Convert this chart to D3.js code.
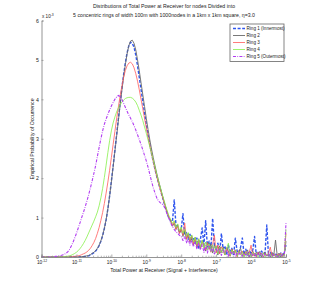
<!DOCTYPE html>
<html>
<head>
<meta charset="utf-8">
<script src="https://cdn.jsdelivr.net/npm/d3@7"></script>
<style>
  body { margin: 0; background: #fff; }
  svg { display: block; font-family: "Liberation Sans", Arial, sans-serif; }
</style>
</head>
<body>
<svg id="chart" width="316" height="289"></svg>
<script>
// bin exponents: 10^-12 ... 10^-5 in steps of 0.05 decade
const binExp = d3.range(141).map((i) => -12 + i * 0.05);

// empirical probability per bin, in units of 1e-3
const ring1 = [
  0,0,0,0,0,0,0,0,0,0, 0,0,0,0,0,0,0,0,0,0, 0,0,0,0.005,0.01,0.015,0.02,0.03,0.05,0.08,
  0.11,0.15,0.21,0.29,0.4,0.54,0.72,0.94,1.22,1.55, 1.92,2.3,2.7,3.1,3.5,3.9,4.28,4.62,4.92,5.18,
  5.36,5.45,5.42,5.32,5.12,4.85,4.55,4.25,3.95,3.65, 3.37,3.1,2.85,2.62,2.42,2.22,2.04,1.88,1.72,1.56,
  1.4,1.25,1.1,0.98,0.92,0.9,1.45,0.8,0.75,0.62, 0.7,1.1,0.55,0.62,0.45,0.58,0.4,0.5,0.35,0.48,
  0.2,0.45,0.74,0.3,0.92,0.25,0.4,0.22,0.98,0.3, 0.18,0.35,0.1,0.6,0.2,0.28,0.05,0.3,0.15,0.22,
  0.04,0.48,0.15,0.1,0.25,0.48,0.06,0.2,0.02,0.15, 0.1,0.18,0.52,0.04,0.12,0.02,0.15,0.08,0.1,0.81,
  0.03,0.12,0.02,0.1,0.05,0.08,0.0,0.1,0.05,0.12, 0.3
];
const ring2 = [
  0,0,0,0,0,0,0,0,0,0, 0,0,0,0,0,0,0,0,0,0, 0,0,0.005,0.01,0.015,0.02,0.03,0.04,0.06,0.09,
  0.12,0.16,0.22,0.3,0.41,0.55,0.73,0.95,1.22,1.54, 1.9,2.28,2.67,3.06,3.45,3.84,4.22,4.57,4.88,5.15,
  5.36,5.48,5.5,5.42,5.25,5.0,4.72,4.42,4.12,3.82, 3.52,3.24,2.98,2.74,2.52,2.31,2.12,1.94,1.77,1.6,
  1.44,1.28,1.13,1.0,
  0.9,0.78,0.86,0.7,0.82,0.6,0.72,0.52,0.68,0.45,
  0.6,0.38,0.55,0.3,0.5,0.25,0.46,0.2,0.42,0.28,
  0.15,0.38,0.2,0.33,0.1,0.3,0.22,0.05,0.28,0.12,
  0.25,0.05,0.22,0.15,0.02,0.2,0.1,0.18,0.03,0.15,
  0.22,0.02,0.12,0.08,0.18,0.0,0.1,0.15,0.02,0.12,
  0.06,0.14,0.0,0.1,0.12,0.02,0.08,0.0,0.12,0.04,
  0.43,0.02,0.1,0.0,0.08,0.05,0.4
];
const ring3 = [
  0,0,0,0,0,0,0,0,0,0, 0,0,0,0,0,0,0,0.005,0.01,0.015,
  0.02,0.03,0.04,0.06,0.08,0.1,0.13,0.17,0.22,0.29, 0.37,0.47,0.6,0.75,0.93,1.13,1.36,1.62,1.9,2.2,
  2.52,2.85,3.18,3.5,3.8,4.08,4.33,4.55,4.73,4.85, 4.92,4.94,4.9,4.8,4.65,4.46,4.24,4.0,3.76,3.52,
  3.28,3.05,2.83,2.62,2.42,2.22,2.04,1.87,1.71,1.56, 1.41,1.27,1.13,1.0,
  0.93,0.8,0.9,0.7,0.78,0.6,0.72,0.55,0.86,0.45,
  0.58,0.4,0.52,0.32,0.48,0.28,0.42,0.22,0.4,0.3,
  0.18,0.36,0.25,0.12,0.32,0.55,0.1,0.3,0.08,0.26,
  0.15,0.05,0.24,0.12,0.02,0.2,0.08,0.18,0.0,0.16,
  0.06,0.15,0.02,0.14,0.05,0.12,0.3,0.02,0.1,0.0,
  0.12,0.05,0.1,0.0,0.09,0.03,0.1,0.25,0.02,0.08,
  0.0,0.07,0.04,0.1,0.0,0.06,0.6
];
const ring4 = [
  0,0,0,0,0,0,0,0,0,0, 0,0,0,0.005,0.01,0.02,0.03,0.045,0.065,0.09,
  0.12,0.16,0.21,0.27,0.34,0.42,0.51,0.61,0.71,0.81, 0.91,1.02,1.14,1.3,1.5,1.74,2.02,2.33,2.65,2.95,
  3.2,3.4,3.55,3.68,3.78,3.86,3.93,3.98,4.02,4.04, 4.05,4.05,4.03,3.99,3.93,3.84,3.72,3.6,3.46,3.3,
  3.14,2.97,2.8,2.63,2.46,2.28,2.1,1.93,1.77,1.61, 1.46,1.31,1.17,1.04,
  0.95,0.85,0.92,0.75,0.84,0.66,0.76,0.6,0.7,0.52,
  0.62,0.45,0.56,0.38,0.5,0.32,0.46,0.26,0.42,0.22,
  0.38,0.18,0.34,0.14,0.3,0.12,0.28,0.08,0.25,0.1,
  0.22,0.05,0.2,0.35,0.04,0.18,0.08,0.16,0.02,0.14,
  0.06,0.13,0.0,0.12,0.04,0.1,0.0,0.11,0.05,0.09,
  0.0,0.08,0.03,0.1,0.0,0.07,0.04,0.08,0.0,0.06,
  0.02,0.05,0.0,0.06,0.02,0.04,0.7
];
const ring5 = [
  0,0,0,0,0,0,0.005,0.01,0.015,0.02, 0.03,0.04,0.05,0.07,0.09,0.13,0.19,0.27,0.37,0.48,
  0.6,0.73,0.86,1.0,1.13,1.27,1.42,1.58,1.75,1.93, 2.12,2.32,2.55,2.78,3.0,3.2,3.37,3.5,3.62,3.73,
  3.83,3.92,4.0,4.06,4.1,4.07,4.0,3.9,3.8,3.7, 3.6,3.52,3.43,3.33,3.22,3.1,2.98,2.85,2.72,2.58,
  2.44,2.28,2.1,1.92,1.76,1.62,1.5,1.42,1.38,1.35, 1.3,1.2,1.08,0.97,0.86,0.77,0.7,0.64,0.6,0.55,
  0.52,
  0.42,0.52,0.36,0.46,0.3,0.42,0.26,0.38,0.2,0.35,
  0.18,0.32,0.12,0.3,0.1,0.28,0.15,0.25,0.06,0.22,
  0.12,0.2,0.04,0.18,0.1,0.16,0.02,0.15,0.08,0.14,
  0.0,0.12,0.06,0.13,0.02,0.1,0.05,0.11,0.0,0.09,
  0.04,0.1,0.0,0.08,0.03,0.09,0.0,0.07,0.02,0.08,
  0.0,0.06,0.03,0.07,0.0,0.05,0.02,0.06,0.03,0.86
];

const legendLabels = ["Ring 1 (Innermost)", "Ring 2", "Ring 3", "Ring 4", "Ring 5 (Outermost)"];
const xMajorTicks = [1e-12, 1e-11, 1e-10, 1e-9, 1e-8, 1e-7, 1e-6, 1e-5];
const yTicks = [0, 1, 2, 3, 4, 5, 6];

const series = [
  { name: legendLabels[0], values: ring1, color: "#2f55ee", width: 1.4, dash: "3,1.6" },
  { name: legendLabels[1], values: ring2, color: "#6a6a6a", width: 0.9, dash: null },
  { name: legendLabels[2], values: ring3, color: "#ff5a5a", width: 0.8, dash: null },
  { name: legendLabels[3], values: ring4, color: "#86f04a", width: 0.8, dash: null },
  { name: legendLabels[4], values: ring5, color: "#b23cf2", width: 1.1, dash: "3,1.3,0.8,1.3" }
];

const svg = d3.select("#chart");

const x = d3.scaleLog().domain([1e-12, 1e-5]).range([41.5, 286]);
const y = d3.scaleLinear().domain([0, 6]).range([257, 20.5]);

// title
svg.append("text")
  .attr("x", 164).attr("y", 8)
  .attr("text-anchor", "middle")
  .attr("font-size", 5.2).attr("fill", "#222")
  .text("Distributions of Total Power at Receiver for nodes Divided into");
svg.append("text")
  .attr("x", 164).attr("y", 16.5)
  .attr("text-anchor", "middle")
  .attr("font-size", 5.2).attr("fill", "#222")
  .text("5 concentric rings of width 100m with 1000nodes in a 1km x 1km square, \u03b7=3.0");

// lines
const line = d3.line()
  .x((d, i) => x(Math.pow(10, binExp[i])))
  .y((d) => y(d));

const lines = svg.append("g");
series.forEach((s) => {
  lines.append("path")
    .datum(s.values)
    .attr("fill", "none")
    .attr("stroke", s.color)
    .attr("stroke-width", s.width)
    .attr("stroke-dasharray", s.dash)
    .attr("stroke-linejoin", "round")
    .attr("d", line);
});

// y axis
const yAxis = svg.append("g")
  .attr("transform", "translate(41.5,0)")
  .call(d3.axisLeft(y).tickValues(yTicks).tickSize(-2).tickPadding(2.5).tickFormat(d3.format("d")));
yAxis.select(".domain").attr("stroke", "#888").attr("stroke-width", 0.9);
yAxis.selectAll(".tick line").attr("stroke", "#888").attr("stroke-width", 0.7);
yAxis.selectAll(".tick text").attr("font-size", 5.2).attr("fill", "#222").attr("font-family", null);

// x axis, major then minor ticks
const xAxis = svg.append("g")
  .attr("transform", "translate(0,257)")
  .call(d3.axisBottom(x).tickValues(xMajorTicks).tickSize(-2.5).tickPadding(4).tickFormat(() => "10"));
xAxis.select(".domain").attr("stroke", "#888").attr("stroke-width", 0.9);
xAxis.selectAll(".tick line").attr("stroke", "#888").attr("stroke-width", 0.7);
xAxis.selectAll(".tick text")
  .attr("font-size", 4.8).attr("fill", "#222").attr("font-family", null)
  .each(function (d) {
    d3.select(this).append("tspan")
      .attr("dy", -2.2).attr("font-size", 3.4)
      .text(Math.round(Math.log10(d)));
  });

const minorTicks = [];
xMajorTicks.slice(0, -1).forEach((t) => {
  for (let k = 2; k <= 9; k++) minorTicks.push(t * k);
});
const xMinor = svg.append("g")
  .attr("transform", "translate(0,257)")
  .call(d3.axisBottom(x).tickValues(minorTicks).tickSize(-1.3).tickFormat(""));
xMinor.select(".domain").remove();
xMinor.selectAll(".tick line").attr("stroke", "#888").attr("stroke-width", 0.6);

// exponent label above y axis
const mult = svg.append("text")
  .attr("x", 42).attr("y", 17.5)
  .attr("font-size", 4.6).attr("fill", "#222")
  .text("x 10");
mult.append("tspan").attr("dy", -2).attr("font-size", 3.4).text("-3");

// axis labels
svg.append("text")
  .attr("x", 164).attr("y", 272)
  .attr("text-anchor", "middle")
  .attr("font-size", 5.2).attr("fill", "#222")
  .text("Total Power at Receiver  (Signal + Interference)");

svg.append("text")
  .attr("transform", "translate(33.5,139)rotate(-90)")
  .attr("text-anchor", "middle")
  .attr("font-size", 5.2).attr("fill", "#222")
  .text("Empirical Probability of Occurrence");

// legend
const legend = svg.append("g").attr("transform", "translate(230,24)");
legend.append("rect")
  .attr("width", 54).attr("height", 37.5)
  .attr("fill", "#fff").attr("stroke", "#666").attr("stroke-width", 0.8);
series.forEach((s, i) => {
  const g = legend.append("g").attr("transform", "translate(0," + (4.5 + i * 7) + ")");
  g.append("line")
    .attr("x1", 3).attr("x2", 15)
    .attr("stroke", s.color)
    .attr("stroke-width", s.width)
    .attr("stroke-dasharray", s.dash);
  g.append("text")
    .attr("x", 16.5).attr("y", 1.7)
    .attr("font-size", 4.6).attr("fill", "#222")
    .text(s.name);
});
</script>
</body>
</html>
